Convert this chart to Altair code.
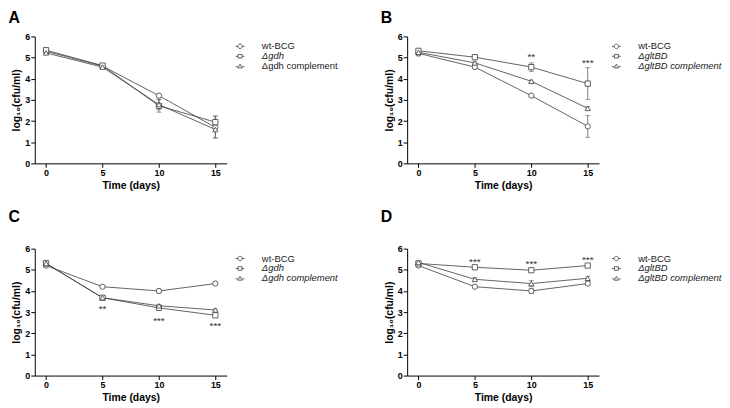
import altair as alt
import pandas as pd

FONT = "Liberation Sans"
LINE = "#3c3c3c"
ERR = "#5a5a5a"

times = [0, 5, 10, 15]

labels_gdh = ["wt-BCG", "Δgdh", "Δgdh complement"]
labels_glt = ["wt-BCG", "ΔgltBD", "ΔgltBD complement"]

# Panel A
a_wt = [5.30, 4.60, 3.20, 1.70]
a_wt_err = [0.10, 0.08, 0.05, 0.50]
a_mut = [5.35, 4.62, 2.72, 1.95]
a_mut_err = [0.10, 0.08, 0.30, 0.30]
a_comp = [5.22, 4.55, 2.78, 1.60]
a_comp_err = [0.08, 0.06, 0.25, 0.40]

# Panel B
b_wt = [5.20, 4.55, 3.20, 1.75]
b_wt_err = [0.12, 0.05, 0.05, 0.52]
b_mut = [5.32, 5.02, 4.55, 3.77]
b_mut_err = [0.08, 0.05, 0.20, 0.75]
b_comp = [5.25, 4.75, 3.88, 2.60]
b_comp_err = [0.08, 0.05, 0.05, 0.08]

# Panel C
c_wt = [5.20, 4.20, 4.00, 4.35]
c_wt_err = [0.05, 0.03, 0.10, 0.05]
c_mut = [5.30, 3.68, 3.20, 2.85]
c_mut_err = [0.08, 0.05, 0.05, 0.05]
c_comp = [5.30, 3.68, 3.30, 3.10]
c_comp_err = [0.15, 0.05, 0.05, 0.05]

# Panel D
d_wt = [5.20, 4.20, 4.00, 4.35]
d_wt_err = [0.05, 0.03, 0.12, 0.08]
d_mut = [5.30, 5.12, 4.98, 5.20]
d_mut_err = [0.05, 0.06, 0.05, 0.04]
d_comp = [5.35, 4.55, 4.35, 4.60]
d_comp_err = [0.05, 0.08, 0.15, 0.10]

# significance marks (time, y position, text)
b_star_t = [10, 15]
b_star_y = [5.17, 4.90]
b_star_s = ["**", "***"]
c_star_t = [5, 10, 15]
c_star_y = [3.29, 2.73, 2.46]
c_star_s = ["**", "***", "***"]
d_star_t = [5, 10, 15]
d_star_y = [5.53, 5.43, 5.58]
d_star_s = ["***", "***", "***"]

x_ticks = [0, 5, 10, 15]
y_ticks = [0, 1, 2, 3, 4, 5, 6]

legend_paths = [
    "M-1,0H-0.5M0.5,0H1M-0.5,0C-0.5,-0.276 -0.276,-0.5 0,-0.5C0.276,-0.5 0.5,-0.276 0.5,0"
    "C0.5,0.276 0.276,0.5 0,0.5C-0.276,0.5 -0.5,0.276 -0.5,0Z",
    "M-1,0H-0.45M0.45,0H1M-0.45,-0.4H0.45V0.4H-0.45Z",
    "M-1,0.1H-0.5M0.5,0.1H1M-0.5,0.4L0,-0.45L0.5,0.4Z",
]


def make_df(labels, vals, errs):
    rows = []
    for lab, vs, es in zip(labels, vals, errs):
        for t, v, e in zip(times, vs, es):
            rows.append({"series": lab, "t": t, "v": v, "lo": v - e, "hi": v + e})
    return pd.DataFrame(rows)


def panel(letter, labels, vals, errs, st, sy, ss, leg_x, leg_y, italic_expr, title_offset):
    df = make_df(labels, vals, errs)
    xs = alt.Scale(domain=[-1, 16], nice=False, zero=False)
    ys = alt.Scale(domain=[0, 6], nice=False, zero=False)
    xax = alt.Axis(values=x_ticks, title="Time (days)")
    yax = alt.Axis(values=y_ticks, title="log₁₀(cfu/ml)")
    X = alt.X("t:Q", scale=xs, axis=xax)
    base = alt.Chart(df)
    err = base.mark_errorbar(ticks=True, size=5, thickness=0.8, color=ERR).encode(
        x=X,
        y=alt.Y("lo:Q", scale=ys, axis=yax),
        y2="hi:Q",
    )
    line = base.mark_line(color=LINE, strokeWidth=0.8).encode(
        x=X, y=alt.Y("v:Q", scale=ys, axis=yax), detail="series:N"
    )
    pts = base.mark_point(
        filled=False, fill="white", fillOpacity=1, color=LINE, strokeWidth=0.8,
        size=28, opacity=1
    ).encode(
        x=X,
        y=alt.Y("v:Q", scale=ys, axis=yax),
        shape=alt.Shape(
            "series:N",
            scale=alt.Scale(domain=labels, range=["circle", "square", "triangle-up"]),
            legend=None,
        ),
    )
    leg = base.transform_filter("false").mark_point(
        filled=False, color=LINE, strokeWidth=0.8, size=81, opacity=1
    ).encode(
        x=X,
        y=alt.Y("v:Q", scale=ys, axis=yax),
        shape=alt.Shape(
            "series:N",
            scale=alt.Scale(domain=labels, range=legend_paths),
            legend=alt.Legend(
                orient="none",
                legendX=leg_x,
                legendY=leg_y,
                title=None,
                padding=0,
                labelFont=FONT,
                labelFontSize=9.5,
                labelColor="#222222",
                labelOffset=17,
                rowPadding=-2,
                symbolSize=81,
                symbolStrokeWidth=0.8,
                symbolStrokeColor=LINE,
                symbolFillColor="white",
                labelFontStyle=alt.ExprRef(italic_expr),
            ),
        ),
    )
    layers = [err, line, pts, leg]
    if st:
        sdf = pd.DataFrame({"t": st, "v": sy, "s": ss})
        stars = alt.Chart(sdf).mark_text(
            font=FONT, fontSize=10, color="#333333", baseline="middle", dy=3
        ).encode(x=X, y=alt.Y("v:Q", scale=ys, axis=yax), text="s:N")
        layers.append(stars)
    return alt.layer(*layers).resolve_scale(shape="independent").properties(
        width=193.5,
        height=128,
        title=alt.TitleParams(
            letter, anchor="start", frame="group", dx=-26.5, font=FONT,
            fontSize=16, fontWeight="bold", color="black", offset=title_offset,
        ),
    )


it_a = "datum.label == 'Δgdh' ? 'italic' : 'normal'"
it_b = "datum.label == 'wt-BCG' ? 'normal' : 'italic'"

pA = panel("A", labels_gdh, [a_wt, a_mut, a_comp], [a_wt_err, a_mut_err, a_comp_err],
           [], [], [], 202, 5, it_a, 7)
pB = panel("B", labels_glt, [b_wt, b_mut, b_comp], [b_wt_err, b_mut_err, b_comp_err],
           b_star_t, b_star_y, b_star_s, 206, 5, it_b, 7)
pC = panel("C", labels_gdh, [c_wt, c_mut, c_comp], [c_wt_err, c_mut_err, c_comp_err],
           c_star_t, c_star_y, c_star_s, 202, 5, it_b, 20)
pD = panel("D", labels_glt, [d_wt, d_mut, d_comp], [d_wt_err, d_mut_err, d_comp_err],
           d_star_t, d_star_y, d_star_s, 206, 5, it_b, 20)

chart = alt.concat(
    pA, pB, pC, pD,
    columns=2,
    spacing={"row": 86, "column": 181.5},
    bounds="flush",
).properties(
    padding={"left": 0, "top": 0, "right": 0, "bottom": 0}
).configure_view(stroke=None).configure_axis(
    grid=False,
    domainColor="black",
    domainWidth=1,
    tickColor="black",
    tickWidth=1,
    tickSize=4,
    labelFont=FONT,
    labelFontSize=9,
    labelFontWeight="bold",
    labelColor="black",
    labelPadding=1,
    titleFont=FONT,
    titleFontSize=10.5,
    titleFontWeight="bold",
    titleColor="black",
).configure_axisY(titlePadding=3).configure_axisX(titlePadding=3)

chart.save("out.html", embed_options={"renderer": "svg", "actions": False})
